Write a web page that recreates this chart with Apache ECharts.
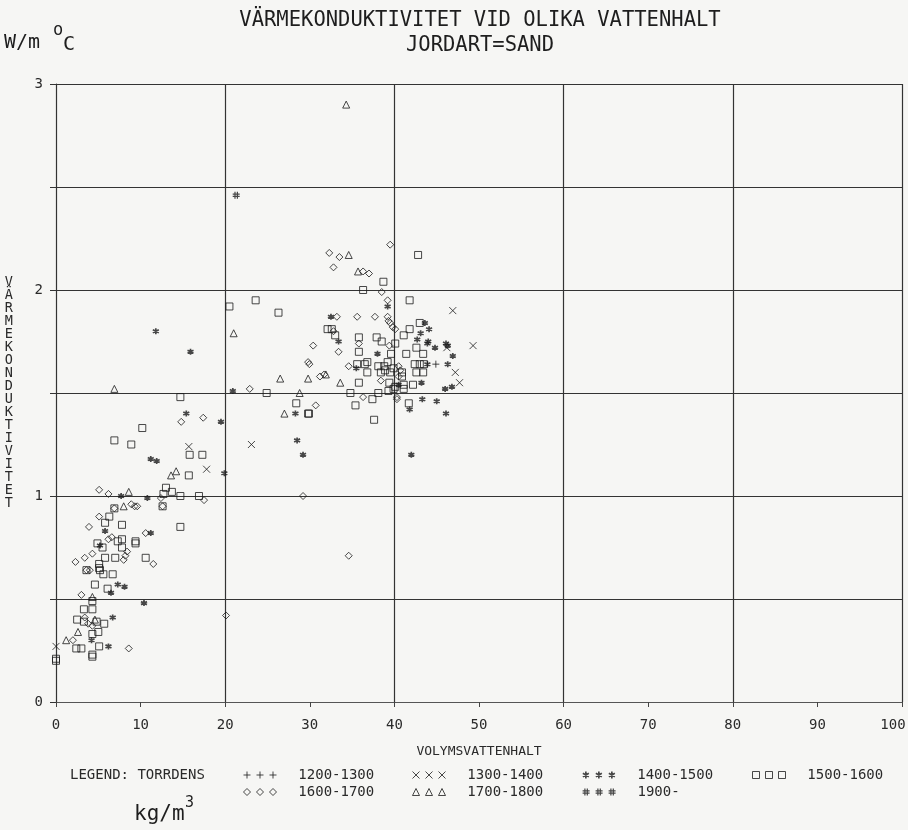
<!DOCTYPE html>
<html>
<head>
<meta charset="utf-8">
<script src="https://cdn.jsdelivr.net/npm/echarts@6/dist/echarts.min.js"></script>
<style>
  html, body { margin: 0; padding: 0; background: #f6f6f4; }
  #chart { width: 908px; height: 830px; }
</style>
</head>
<body>
<div id="chart"></div>
<script>
// Texts
const titleText = 'VÄRMEKONDUKTIVITET VID OLIKA VATTENHALT';
const subtitleText = 'JORDART=SAND';
const xName = 'VOLYMSVATTENHALT';
const yName = 'VÄRMEKONDUKTIVITET';
const legendCaption = 'LEGEND: TORRDENS';
const yLabelValues = [0, 1, 2, 3];

// Dry-density classes (kg/m3)
const densityClasses = ['1200-1300', '1300-1400', '1400-1500', '1500-1600', '1600-1700', '1700-1800', '1900-'];

// [volumetric water content %, thermal conductivity W/m°C]
const d1200 = [[44.9, 1.64]];

const d1300 = [[0.0, 0.27], [15.7, 1.24], [17.8, 1.13], [23.1, 1.25], [46.9, 1.90], [49.3, 1.73],
  [46.2, 1.72], [47.2, 1.60], [47.7, 1.55]];

const d1400 = [[11.8, 1.80], [15.9, 1.70], [20.9, 1.51], [15.4, 1.40], [28.3, 1.40], [19.5, 1.36],
  [11.2, 1.18], [11.9, 1.17], [19.9, 1.11], [7.7, 1.00], [10.8, 0.99], [5.8, 0.83], [11.2, 0.82],
  [5.2, 0.76], [7.3, 0.57], [8.1, 0.56], [6.5, 0.53], [10.4, 0.48], [6.7, 0.41], [6.2, 0.27],
  [4.2, 0.30], [39.2, 1.92], [32.5, 1.87], [43.6, 1.84], [44.1, 1.81], [43.1, 1.79], [33.4, 1.75],
  [42.7, 1.76], [43.9, 1.74], [44.0, 1.75], [44.8, 1.72], [46.1, 1.74], [46.3, 1.73], [46.9, 1.68],
  [43.9, 1.64], [46.3, 1.64], [35.5, 1.62], [38.0, 1.69], [40.5, 1.54], [43.2, 1.55], [46.0, 1.52],
  [46.8, 1.53], [41.8, 1.42], [43.3, 1.47], [45.0, 1.46], [46.1, 1.40], [28.5, 1.27], [29.2, 1.20],
  [42.0, 1.20]];

const d1500 = [[20.5, 1.92], [23.6, 1.95], [26.3, 1.89], [24.9, 1.50], [14.7, 1.48], [28.4, 1.45],
  [29.8, 1.40], [10.2, 1.33], [6.9, 1.27], [8.9, 1.25], [15.8, 1.20], [17.3, 1.20], [15.7, 1.10],
  [13.0, 1.04], [12.7, 1.01], [13.7, 1.02], [14.7, 1.00], [16.9, 1.00], [6.9, 0.94], [12.6, 0.95],
  [6.3, 0.90], [5.8, 0.87], [7.8, 0.86], [14.7, 0.85], [4.9, 0.77], [7.3, 0.78], [7.8, 0.79],
  [7.8, 0.75], [9.4, 0.78], [9.4, 0.77], [5.5, 0.75], [5.8, 0.70], [7.0, 0.70], [10.6, 0.70],
  [5.1, 0.67], [5.1, 0.65], [3.6, 0.64], [5.2, 0.64], [5.6, 0.62], [6.7, 0.62], [4.6, 0.57],
  [6.1, 0.55], [4.3, 0.49], [3.3, 0.45], [4.3, 0.45], [2.5, 0.40], [3.3, 0.39], [4.8, 0.39],
  [5.7, 0.38], [4.3, 0.33], [5.0, 0.34], [2.4, 0.26], [3.0, 0.26], [5.1, 0.27], [4.3, 0.23],
  [4.3, 0.22], [0.0, 0.21], [0.0, 0.20],
  [42.8, 2.17], [38.7, 2.04], [36.3, 2.00], [41.8, 1.95], [43.0, 1.84], [41.8, 1.81], [32.1, 1.81],
  [32.6, 1.81], [33.0, 1.78], [41.1, 1.78], [35.8, 1.77], [37.9, 1.77], [38.5, 1.75], [40.1, 1.74],
  [42.6, 1.72], [35.8, 1.70], [39.6, 1.69], [41.4, 1.69], [43.4, 1.69], [35.6, 1.64], [36.8, 1.65],
  [36.5, 1.64], [38.1, 1.63], [39.2, 1.65], [38.9, 1.61], [39.9, 1.62], [42.4, 1.64], [43.0, 1.64],
  [43.5, 1.64], [36.8, 1.60], [38.4, 1.60], [39.5, 1.60], [40.9, 1.60], [40.9, 1.58], [42.6, 1.60],
  [43.4, 1.60], [38.8, 1.63], [35.8, 1.55], [39.4, 1.55], [40.1, 1.53], [41.1, 1.54], [41.1, 1.52],
  [42.2, 1.54], [39.3, 1.51], [39.9, 1.52], [38.1, 1.50], [37.4, 1.47], [34.8, 1.50], [35.4, 1.44],
  [29.9, 1.40], [41.7, 1.45], [37.6, 1.37]];

const d1600 = [[29.8, 1.65], [22.9, 1.52], [17.4, 1.38], [14.8, 1.36], [5.1, 1.03], [6.2, 1.01],
  [12.4, 0.99], [17.5, 0.98], [8.9, 0.96], [9.3, 0.95], [9.6, 0.95], [6.9, 0.94], [12.6, 0.95],
  [5.1, 0.90], [3.9, 0.85], [10.6, 0.82], [6.2, 0.79], [6.6, 0.80], [8.4, 0.73], [8.2, 0.71],
  [4.3, 0.72], [3.4, 0.70], [2.3, 0.68], [8.0, 0.69], [11.5, 0.67], [3.6, 0.64], [4.0, 0.64],
  [3.0, 0.52], [20.1, 0.42], [3.4, 0.41], [3.8, 0.38], [4.3, 0.37], [2.0, 0.30], [8.6, 0.26],
  [29.2, 1.00], [34.6, 0.71],
  [39.5, 2.22], [32.3, 2.18], [33.5, 2.16], [32.8, 2.11], [36.3, 2.09], [37.0, 2.08], [38.5, 1.99],
  [39.2, 1.95], [33.2, 1.87], [35.6, 1.87], [37.7, 1.87], [39.2, 1.87], [39.3, 1.85], [39.5, 1.84],
  [39.8, 1.82], [40.1, 1.81], [32.8, 1.80], [35.8, 1.74], [39.4, 1.73], [30.4, 1.73], [33.4, 1.70],
  [29.95, 1.64], [34.6, 1.63], [40.5, 1.63], [40.7, 1.61], [40.5, 1.58], [31.2, 1.58], [31.7, 1.59],
  [38.4, 1.56], [40.3, 1.48], [40.3, 1.47], [36.3, 1.48], [30.7, 1.44]];

const d1700 = [[34.3, 2.90], [21.0, 1.79], [26.5, 1.57], [29.8, 1.57], [28.8, 1.50], [27.0, 1.40],
  [6.9, 1.52], [14.2, 1.12], [13.6, 1.10], [8.6, 1.02], [8.0, 0.95], [4.3, 0.51], [4.6, 0.40],
  [2.6, 0.34], [1.2, 0.30], [35.7, 2.09], [34.6, 2.17], [31.9, 1.59], [33.6, 1.55]];

const d1900 = [[21.3, 2.46]];

const FONT = "'DejaVu Sans Mono', monospace";
const INK = '#1c1c1c';

// Marker outlines, one per density class (drawn as 7x7 glyphs)
const glyphs = [
  { lines: [[[3.5, 0], [3.5, 7]], [[0, 3.5], [7, 3.5]]] },                                 // +
  { lines: [[[0, 0], [7, 7]], [[7, 0], [0, 7]]] },                                          // x
  { lines: [[[3.5, 0], [3.5, 7]], [[0.5, 1.75], [6.5, 5.25]], [[0.5, 5.25], [6.5, 1.75]]] }, // *
  { lines: [[[0, 0], [7, 0], [7, 7], [0, 7]]], closed: true },                             // square
  { lines: [[[3.5, 0], [7, 3.5], [3.5, 7], [0, 3.5]]], closed: true },                     // diamond
  { lines: [[[3.5, 0], [7, 7], [0, 7]]], closed: true },                                   // triangle
  { lines: [[[2.3, 0], [2.3, 7]], [[4.7, 0], [4.7, 7]], [[0, 2.3], [7, 2.3]], [[0, 4.7], [7, 4.7]]] } // #
];

function glyphPath(g, shifts) {
  let d = '';
  shifts.forEach(dx => {
    g.lines.forEach(pl => {
      pl.forEach((p, k) => { d += (k ? 'L' : 'M') + (p[0] + dx) + ',' + p[1]; });
      if (g.closed) d += 'Z';
    });
  });
  return 'path://' + d;
}

const seriesData = [d1200, d1300, d1400, d1500, d1600, d1700, d1900];
const markerSizes = [7, 7, 6, 7, 7, 7, 7];
const strokeWidths = [1, 1, 1.7, 1, 1, 1, 1.2];

const series = densityClasses.map((name, i) => ({
  name: name,
  type: 'scatter',
  xAxisIndex: 0,
  yAxisIndex: 0,
  data: seriesData[i],
  symbol: glyphPath(glyphs[i], [0]),
  symbolSize: markerSizes[i],
  itemStyle: { color: 'rgba(0,0,0,0)', borderColor: INK, borderWidth: strokeWidths[i] },
  emphasis: { disabled: true },
  silent: true
}));

// Legend columns / rows
const legendLeft = [243, 412, 582, 752, 243, 412, 582];
const legendTop = [768, 768, 768, 768, 785, 785, 785];

const legends = densityClasses.map((name, i) => ({
  data: [name],
  left: legendLeft[i],
  top: legendTop[i],
  padding: 0,
  selectedMode: false,
  icon: glyphPath(glyphs[i], [0, 13, 26]),
  itemWidth: 33,
  itemHeight: 7,
  itemStyle: { color: 'rgba(0,0,0,0)', borderColor: INK, borderWidth: strokeWidths[i] },
  formatter: n => '  ' + n,
  textStyle: { fontFamily: FONT, fontSize: 14, color: '#2a2a2a' }
}));

const chart = echarts.init(document.getElementById('chart'), null, { renderer: 'canvas' });

chart.setOption({
  backgroundColor: '#f6f6f4',
  animation: false,
  title: {
    text: titleText,
    subtext: subtitleText,
    left: 475,
    top: 5,
    textAlign: 'center',
    itemGap: 4,
    textStyle: { fontFamily: FONT, fontSize: 20.5, fontWeight: 'normal', color: '#1e1e1e' },
    subtextStyle: { fontFamily: FONT, fontSize: 20.5, color: '#1e1e1e' }
  },
  legend: legends,
  grid: { left: 56, right: 6, top: 84, bottom: 128, containLabel: false, outerBoundsMode: 'none' },
  xAxis: [
    {
      type: 'value', min: 0, max: 100, interval: 10, offset: 7,
      name: xName, nameLocation: 'middle', nameGap: 36,
      nameTextStyle: { fontFamily: FONT, fontSize: 13, color: '#2a2a2a' },
      axisLine: { show: true, lineStyle: { color: '#555', width: 1 } },
      axisTick: { show: true, length: 5, lineStyle: { color: '#444' } },
      axisLabel: {
        fontFamily: FONT, fontSize: 14, color: '#2a2a2a', margin: 9,
        // the last label is nudged left so it stays inside the page
        formatter: v => (v === 100 ? '{edge|' + v + '}' : String(v)),
        rich: { edge: { fontFamily: FONT, fontSize: 14, color: '#2a2a2a', padding: [0, 18, 0, 0] } }
      },
      splitLine: { show: false }
    },
    {
      type: 'value', min: 0, max: 100, interval: 20, position: 'bottom',
      axisLine: { show: false }, axisTick: { show: false }, axisLabel: { show: false },
      splitLine: { show: true, showMinLine: false, lineStyle: { color: '#333', width: 1.2 } }
    }
  ],
  yAxis: {
    type: 'value', min: 0, max: 3, interval: 0.5, offset: 5,
    name: yName.split('').join('\n'), nameLocation: 'middle', nameRotate: 0, nameGap: 38,
    nameTextStyle: { fontFamily: FONT, fontSize: 13.5, lineHeight: 13, color: '#2a2a2a', padding: [25, 0, 0, 0] },
    axisLine: { show: true, lineStyle: { color: '#333', width: 1.2 } },
    axisTick: { show: true, length: 6, lineStyle: { color: '#333' } },
    axisLabel: {
      fontFamily: FONT, fontSize: 14, color: '#2a2a2a', margin: 8,
      formatter: v => (yLabelValues.indexOf(v) >= 0 ? String(v) : '')
    },
    splitLine: { show: true, showMinLine: false, showMaxLine: true, lineStyle: { color: '#333', width: 1.2 } }
  },
  graphic: [
    { type: 'text', left: 4, top: 33, style: { text: 'W/m', font: '20px ' + FONT, fill: '#1e1e1e' } },
    { type: 'text', left: 53, top: 22, style: { text: 'o', font: '17px ' + FONT, fill: '#1e1e1e' } },
    { type: 'text', left: 63, top: 35, style: { text: 'C', font: '20px ' + FONT, fill: '#1e1e1e' } },
    { type: 'text', left: 70, top: 768, style: { text: legendCaption, font: '14px ' + FONT, fill: '#2a2a2a' } },
    { type: 'text', left: 134, top: 804, style: { text: 'kg/m', font: '21px ' + FONT, fill: '#1e1e1e' } },
    { type: 'text', left: 185, top: 796, style: { text: '3', font: '15px ' + FONT, fill: '#1e1e1e' } }
  ],
  series: series
});
</script>
</body>
</html>
